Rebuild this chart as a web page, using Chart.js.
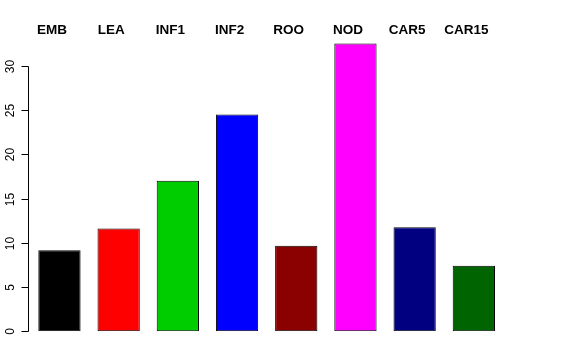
<!DOCTYPE html>
<html>
<head>
<meta charset="utf-8">
<script src="https://cdn.jsdelivr.net/npm/chart.js@4/dist/chart.umd.min.js"></script>
<style>
  html, body { margin: 0; padding: 0; background: #ffffff; }
  #wrap { width: 576px; height: 360px; }
</style>
</head>
<body>
<div id="wrap"><canvas id="c" width="576" height="360"></canvas></div>
<script>
const categories = ["EMB", "LEA", "INF1", "INF2", "ROO", "NOD", "CAR5", "CAR15"];
const values = [9.15, 11.6, 17.0, 24.5, 9.67, 32.5, 11.75, 7.4];
const barColors = ["#000000", "#FF0000", "#00CD00", "#0000FF", "#8B0000", "#FF00FF", "#000080", "#006400"];
const yTicks = [0, 5, 10, 15, 20, 25, 30];

const FONT = "'Liberation Sans', Arial, Helvetica, sans-serif";

const axesPlugin = {
  id: 'rAxes',
  afterDraw(chart) {
    const ctx = chart.ctx;
    const y = chart.scales.y;
    const x = chart.scales.x;
    const axisX = 28.5;
    ctx.save();
    ctx.strokeStyle = '#000000';
    ctx.lineWidth = 1;
    ctx.beginPath();
    ctx.moveTo(axisX, Math.round(y.getPixelForValue(yTicks[0])) + 0.5);
    ctx.lineTo(axisX, Math.round(y.getPixelForValue(yTicks[yTicks.length - 1])) + 0.5);
    ctx.stroke();
    ctx.fillStyle = '#000000';
    ctx.font = '12px ' + FONT;
    ctx.textAlign = 'center';
    ctx.textBaseline = 'alphabetic';
    yTicks.forEach(t => {
      const py = Math.round(y.getPixelForValue(t)) + 0.5;
      ctx.beginPath();
      ctx.moveTo(axisX - 7, py);
      ctx.lineTo(axisX, py);
      ctx.stroke();
      ctx.save();
      ctx.translate(13.5, py);
      ctx.rotate(-Math.PI / 2);
      ctx.fillText(String(t), 0, 0);
      ctx.restore();
    });
    // category labels above the plot (R mtext style, slightly left of bar centres)
    ctx.font = 'bold 13.5px ' + FONT;
    categories.forEach((c, i) => {
      ctx.fillText(c, x.getPixelForValue(i) - 7.5, 33.5);
    });
    ctx.restore();
  }
};

new Chart(document.getElementById('c'), {
  type: 'bar',
  data: {
    labels: categories,
    datasets: [{
      data: values,
      backgroundColor: barColors,
      borderColor: '#000000',
      borderWidth: 1,
      borderSkipped: false,
      barPercentage: 0.714,
      categoryPercentage: 1.0
    }]
  },
  options: {
    responsive: false,
    devicePixelRatio: 1,
    animation: false,
    layout: { padding: { left: 29.85, right: 72.55, top: 0, bottom: 28.7 } },
    plugins: { legend: { display: false }, tooltip: { enabled: false } },
    scales: {
      x: {
        position: 'top',
        grid: { display: false, drawTicks: false },
        border: { display: false },
        ticks: { display: false },
        afterFit(scale) { scale.height = 39; }
      },
      y: {
        display: false,
        min: 0,
        max: 33.02
      }
    }
  },
  plugins: [axesPlugin]
});
</script>
</body>
</html>
